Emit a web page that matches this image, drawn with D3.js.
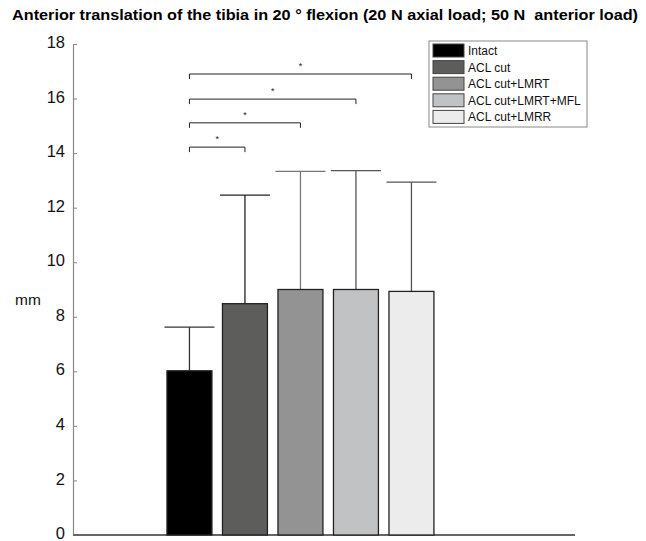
<!DOCTYPE html>
<html>
<head>
<meta charset="utf-8">
<script src="https://cdn.jsdelivr.net/npm/d3@7"></script>
<style>
  body { margin: 0; background: #fff; }
  text { font-family: "Liberation Sans", Arial, sans-serif; }
</style>
</head>
<body>
<div id="chart"></div>
<script>
// group names, means and upper error-bar ends (mm)
const groups = ["Intact", "ACL cut", "ACL cut+LMRT", "ACL cut+LMRT+MFL", "ACL cut+LMRR"];
const means = [6.02, 8.48, 9.0, 9.0, 8.93];
const errTops = [7.62, 12.46, 13.33, 13.36, 12.94];
const fills = ["#000000", "#5d5d5b", "#939393", "#c1c2c4", "#ececec"];
const errColors = ["#333", "#222", "#777", "#555", "#555"];
const yTicks = [0, 2, 4, 6, 8, 10, 12, 14, 16, 18];

// significance brackets: from Intact to each other group
const sigPairs = [
  { to: "ACL cut", level: 14.22 },
  { to: "ACL cut+LMRT", level: 15.11 },
  { to: "ACL cut+LMRT+MFL", level: 15.98 },
  { to: "ACL cut+LMRR", level: 16.9 }
];

const data = groups.map((g, i) => ({ group: g, mean: means[i], top: errTops[i], fill: fills[i], ec: errColors[i] }));

const width = 646, height = 541;

const svg = d3.select("#chart")
  .append("svg")
  .attr("width", width)
  .attr("height", height);

const x = d3.scaleBand()
  .domain(groups)
  .range([161.7, 439.2])
  .paddingInner(0.19)
  .paddingOuter(0.095);

const y = d3.scaleLinear()
  .domain([0, 18])
  .range([535, 44]);

// title
svg.append("text")
  .attr("x", 12)
  .attr("y", 20)
  .style("font-size", "15px")
  .style("font-weight", "bold")
  .style("white-space", "pre")
  .attr("textLength", 626)
  .attr("lengthAdjust", "spacingAndGlyphs")
  .attr("fill", "#000")
  .text("Anterior translation of the tibia in 20 ° flexion (20 N axial load; 50 N  anterior load)");

// y axis, ticks pointing inward
const yAxis = svg.append("g")
  .attr("transform", "translate(73,0)")
  .call(d3.axisRight(y).tickValues(yTicks).tickSize(4).tickSizeOuter(0).tickFormat(d3.format("d")));
yAxis.select(".domain").attr("stroke", "#888").attr("stroke-width", 1.2);
yAxis.selectAll(".tick line").attr("stroke", "#888");
yAxis.selectAll(".tick text")
  .attr("x", -8)
  .attr("dy", "0.22em")
  .attr("text-anchor", "end")
  .style("font-size", "16.5px")
  .attr("fill", "#111");

svg.append("text")
  .attr("x", 15)
  .attr("y", 305)
  .style("font-size", "15.5px")
  .attr("fill", "#111")
  .text("mm");

// x axis line
svg.append("line")
  .attr("x1", 73).attr("x2", 575)
  .attr("y1", y(0)).attr("y2", y(0))
  .attr("stroke", "#666")
  .attr("stroke-width", 1.8);

// error bars (upper only)
const err = svg.selectAll(".err")
  .data(data)
  .join("g")
  .attr("class", "err")
  .attr("stroke", d => d.ec)
  .attr("stroke-width", 1.3);

err.append("line")
  .attr("x1", d => x(d.group) + x.bandwidth() / 2)
  .attr("x2", d => x(d.group) + x.bandwidth() / 2)
  .attr("y1", d => y(d.mean))
  .attr("y2", d => y(d.top));

err.append("line")
  .attr("x1", d => x(d.group) + x.bandwidth() / 2 - 25)
  .attr("x2", d => x(d.group) + x.bandwidth() / 2 + 25)
  .attr("y1", d => y(d.top))
  .attr("y2", d => y(d.top));

// bars
svg.selectAll(".bar")
  .data(data)
  .join("rect")
  .attr("class", "bar")
  .attr("x", d => x(d.group))
  .attr("width", x.bandwidth())
  .attr("y", d => y(d.mean))
  .attr("height", d => y(0) - y(d.mean))
  .attr("fill", d => d.fill)
  .attr("stroke", "#222")
  .attr("stroke-width", 1.3);

// significance brackets
const cx = g => x(g) + x.bandwidth() / 2;
const sig = svg.selectAll(".sig")
  .data(sigPairs)
  .join("g")
  .attr("class", "sig");

sig.append("path")
  .attr("d", d => {
    const x0 = cx("Intact"), x1 = cx(d.to), yy = y(d.level);
    return `M${x0},${yy + 5}V${yy}H${x1}V${yy + 5}`;
  })
  .attr("fill", "none")
  .attr("stroke", "#222")
  .attr("stroke-width", 1);

sig.append("text")
  .attr("x", d => (cx("Intact") + cx(d.to)) / 2)
  .attr("y", d => y(d.level) - 5)
  .attr("text-anchor", "middle")
  .style("font-size", "9px")
  .attr("fill", "#222")
  .text("*");

// legend
const legend = svg.append("g").attr("transform", "translate(429,41)");
legend.append("rect")
  .attr("width", 158)
  .attr("height", 86)
  .attr("fill", "#fff")
  .attr("stroke", "#888")
  .attr("stroke-width", 1);

const item = legend.selectAll(".item")
  .data(data)
  .join("g")
  .attr("class", "item")
  .attr("transform", (d, i) => `translate(4,${3 + i * 16.6})`);

item.append("rect")
  .attr("width", 31)
  .attr("height", 13)
  .attr("fill", d => d.fill)
  .attr("stroke", "#444")
  .attr("stroke-width", 1);

item.append("text")
  .attr("x", 35)
  .attr("y", 11)
  .style("font-size", "12px")
  .attr("fill", "#111")
  .text(d => d.group);
</script>
</body>
</html>
